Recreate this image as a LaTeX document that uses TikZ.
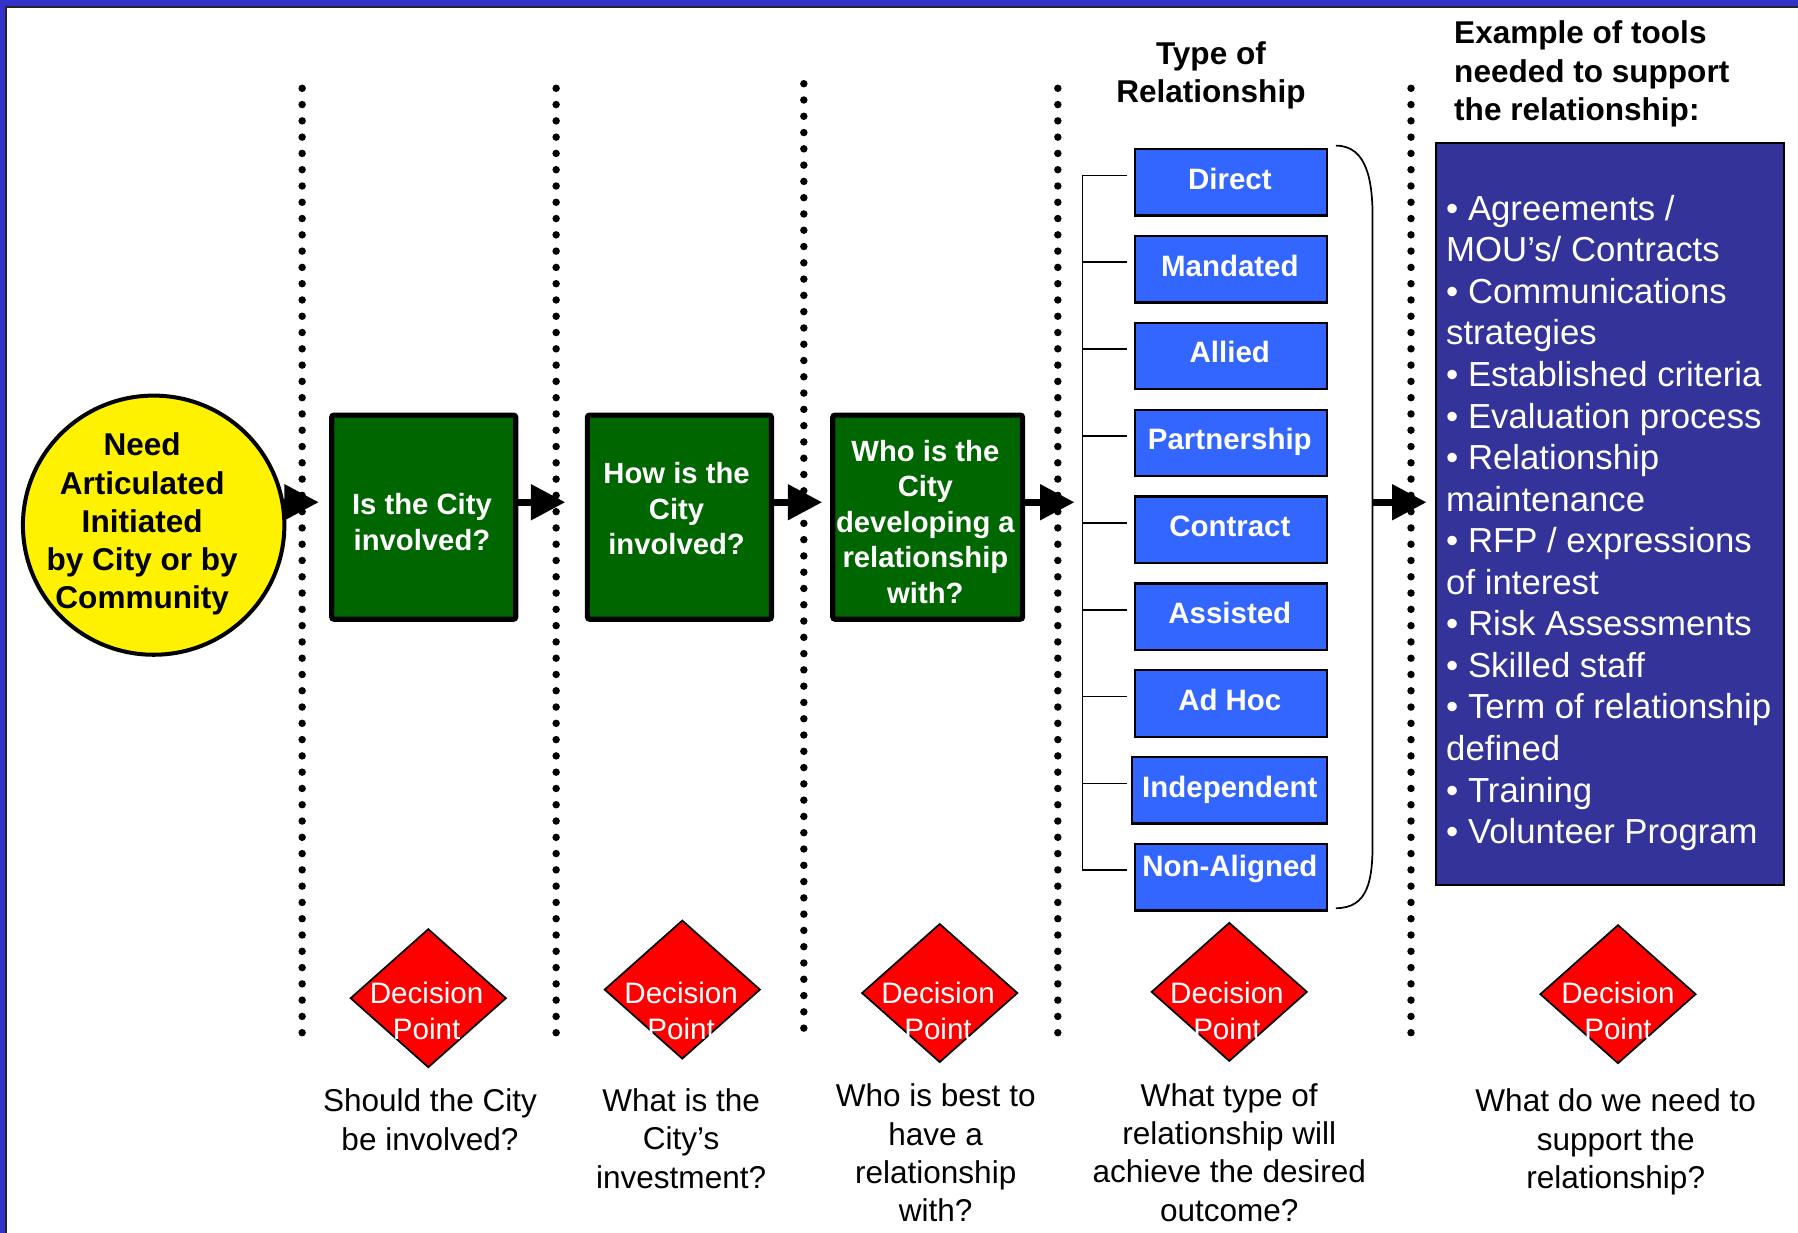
\documentclass[tikz,border=0pt]{standalone}
\usepackage{fontspec}
\setmainfont{Liberation Sans}
\usetikzlibrary{arrows.meta,shapes.geometric}
\definecolor{frameblue}{HTML}{3333CC}
\definecolor{navybox}{HTML}{333399}
\definecolor{relblue}{HTML}{3366FF}
\definecolor{dkgreen}{HTML}{006600}
\begin{document}
\begin{tikzpicture}[x=1pt,y=-1pt,
 dotline/.style={line width=6.5pt, line cap=round, dash pattern=on 0pt off 14.2pt},
 gbox/.style={draw=black, line width=4.5pt, fill=dkgreen, rounded corners=2pt, minimum height=178pt, inner sep=0pt},
 gtext/.style={text=white, font=\bfseries\fontsize{25.5}{31}\selectfont, align=center, inner sep=0pt},
 rbox/.style={draw=black, line width=2pt, fill=relblue, minimum width=167pt, minimum height=58pt, inner sep=0pt},
 rtext/.style={text=white, font=\bfseries\fontsize{25.7}{31}\selectfont, anchor=base, inner sep=0pt},
 dpoint/.style={diamond, draw=black, line width=1.5pt, fill=red, minimum width=136pt, minimum height=121pt, inner sep=0pt},
 dtext/.style={text=white, font=\fontsize{25.8}{31}\selectfont, align=center, inner sep=0pt},
 qtext/.style={font=\fontsize{27.5}{33.5}\selectfont, align=center, inner sep=0pt},
 htext/.style={font=\bfseries\fontsize{27.5}{33.3}\selectfont, inner sep=0pt},
 ntext/.style={text=white, font=\fontsize{30.3}{36}\selectfont, anchor=base west, inner sep=0pt},
 bigarrow/.style={line width=6pt, -{Triangle[length=30pt,width=30pt]}},
 treeline/.style={line width=1.5pt},
]
\useasboundingbox (0,0) rectangle (1568,1075);
\fill[white] (0,0) rectangle (1568,1075);
% frame
\fill[frameblue] (0,0) rectangle (1568,5);
\fill[frameblue] (0,0) rectangle (4.5,1075);
\draw[line width=1.6pt, black!85] (1568,5.8) -- (5.3,5.8) -- (5.3,1075);
% dotted separators
\foreach \x/\a/\b in {263.5/77/903, 485/77/903, 701/73/898, 922.5/77/903, 1230.5/77/903}
  \draw[dotline] (\x,\a) -- (\x,\b);
% start circle
\node[ellipse, draw=black, line width=3.5pt, fill=yellow, minimum width=228pt, minimum height=226pt, inner sep=0pt] (circ) at (134,458) {};
\node[htext, align=center] (circt) at (124,457) {Need\\Articulated\\Initiated\\by City or by\\Community};
% green boxes
\node[gbox, minimum width=160.5pt] (g1) at (369.5,451) {};
\node[gtext] (g1t) at (368,455.5) {Is the City\\involved?};
\node[gbox, minimum width=160.5pt] (g2) at (592.5,451) {};
\node[gtext] (g2t) at (590,443.5) {How is the\\City\\involved?};
\node[gbox, minimum width=165.5pt] (g3) at (809,451) {};
\node[gtext] (g3t) at (807,455) {Who is the\\City\\developing a\\relationship\\with?};
% arrows
\coordinate (c1) at (246,438);
\coordinate (t1) at (278,438);
\coordinate (t2) at (493,438);
\coordinate (t3) at (717,438);
\coordinate (t4) at (937,438);
\coordinate (bk) at (1197,438);
\coordinate (t5) at (1244,438);
\draw[bigarrow] (c1) -- (t1);
\draw[bigarrow] (g1.east |- t2) -- (t2);
\draw[bigarrow] (g2.east |- t3) -- (t3);
\draw[bigarrow] (g3.east |- t4) -- (t4);
\draw[bigarrow] (bk) -- (t5);
% heading type of relationship
\node[htext, align=center] (typeh) at (1056,66) {Type of\\Relationship};
% relationship boxes
\foreach \i/\w/\cx/\t/\bo in {0/167/1073.5/Direct/6, 1/167/1073.5/Mandated/6, 2/167/1073.5/Allied/6, 3/167/1073.5/Partnership/6, 4/167/1073.5/Contract/6, 5/167/1073.5/Assisted/6, 6/167/1073.5/Ad Hoc/6, 7/170/1072/Independent/6, 8/167/1073.5/Non-Aligned/-1}{
  \node[rbox, minimum width=\w pt] (rb\i) at (\cx,{159+75.75*\i}) {};
  \node[rtext] (rt\i) at (1072.5,{159+75.75*\i+\bo}) {\t};
  \draw[treeline] (944,{153+75.75*\i}) -- (983,{153+75.75*\i});
}
\draw[treeline] (944,153) -- (944,{153+75.75*8});
% right bracket
\draw[treeline] (1165,127) .. controls (1193,127) and (1197,160) .. (1197,190) -- (1197,735) .. controls (1197,768) and (1193,792) .. (1165,792);
% tools heading and box
\node[htext, align=left, anchor=west] (exh) at (1268,64.5) {Example of tools\\needed to support\\the relationship:};
\node[draw=black, line width=2pt, fill=navybox, minimum width=304pt, minimum height=647pt, inner sep=0pt] (tools) at (1404,448) {};
\foreach \k/\s in {0/{• Agreements /}, 1/{MOU’s/ Contracts}, 2/{• Communications}, 3/{strategies}, 4/{• Established criteria}, 5/{• Evaluation process}, 6/{• Relationship}, 7/{maintenance}, 8/{• RFP / expressions}, 9/{of interest}, 10/{• Risk Assessments}, 11/{• Skilled staff}, 12/{• Term of relationship}, 13/{defined}, 14/{• Training}, 15/{• Volunteer Program}}
  \node[ntext] (nl\k) at (1261,{192+36.25*\k}) {\s};
% decision points
\foreach \i/\x/\y/\tx in {1/373.5/870.5/372, 2/595/863/594, 3/819.5/866/818, 4/1072/865/1070, 5/1411/867/1411}{
  \node[dpoint] (dp\i) at (\x,\y) {};
  \node[dtext] (dpt\i) at (\tx,881.5) {Decision\\Point};
}
% questions
\node[qtext] (q1) at (375,976.5) {Should the City\\be involved?};
\node[qtext] (q2) at (594,993) {What is the\\City’s\\investment?};
\node[qtext] (q3) at (816,1005.5) {Who is best to\\have a\\relationship\\with?};
\node[qtext] (q4) at (1072,1005) {What type of\\relationship will\\achieve the desired\\outcome?};
\node[qtext] (q5) at (1409,996) {What do we need to\\support the\\relationship?};
\end{tikzpicture}
\end{document}
